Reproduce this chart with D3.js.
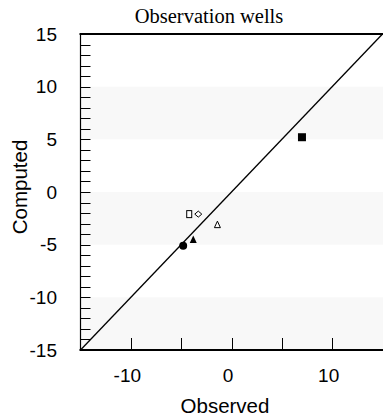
<!DOCTYPE html>
<meta charset="utf-8">
<title>Observation wells</title>
<style>
  body { margin: 0; background: #fff; }
  svg { display: block; }
  .tick text { font-family: "Liberation Sans", Arial, sans-serif; font-size: 19px; fill: #000; }
</style>
<svg width="383" height="419"></svg>
<script src="https://d3js.org/d3.v7.min.js"></script>
<script>

  var observed = [7.0, -4.2, -3.3, -1.4, -3.8, -4.8],
      computed = [5.2, -2.1, -2.1, -3.1, -4.5, -5.1],
      shapes = ["squareFilled", "squareOpen", "diamondOpen", "triangleOpen", "triangleFilled", "circleFilled"];

  var xTicks = [-10, -5, 0, 5, 10],
      xLabels = [-10, 0, 10],
      yLabels = [15, 10, 5, 0, -5, -10, -15],
      bands = [[5, 10], [-5, 0], [-15, -10]];

  var svg = d3.select("svg"),
      plotL = 80.5, plotT = 34, plotR = 382.5, plotB = 350;

  var x = d3.scaleLinear().domain([-15, 15]).range([plotL, plotR]);
  var y = d3.scaleLinear().domain([-15, 15]).range([plotB, plotT]);

  // shaded bands
  svg.selectAll("rect.band")
      .data(bands)
      .enter().append("rect")
      .attr("class", "band")
      .attr("x", plotL)
      .attr("width", plotR - plotL + 1)
      .attr("y", function(d) { return y(d[1]); })
      .attr("height", function(d) { return y(d[0]) - y(d[1]); })
      .attr("fill", "#f8f8f8");

  // minor ticks on y, every unit
  svg.selectAll("line.ytick")
      .data(d3.range(-14, 15))
      .enter().append("line")
      .attr("x1", plotL).attr("x2", plotL + 10)
      .attr("y1", function(d) { return Math.round(y(d)) + 0.5; })
      .attr("y2", function(d) { return Math.round(y(d)) + 0.5; })
      .attr("stroke", "#000");

  svg.selectAll("line.xtick")
      .data(xTicks)
      .enter().append("line")
      .attr("x1", function(d) { return Math.round(x(d)) + 0.5; })
      .attr("x2", function(d) { return Math.round(x(d)) + 0.5; })
      .attr("y1", plotB).attr("y2", plotB - 12)
      .attr("stroke", "#000");

  // 1:1 line
  svg.append("line")
      .attr("x1", x(-15)).attr("y1", y(-15))
      .attr("x2", x(15)).attr("y2", y(15))
      .attr("stroke", "#000")
      .attr("stroke-width", 1.3);

  // frame
  svg.append("line").attr("x1", plotL).attr("x2", plotL).attr("y1", plotT).attr("y2", plotB)
      .attr("stroke", "#000").attr("stroke-width", 1.2);
  svg.append("line").attr("x1", plotL - 1).attr("x2", 383).attr("y1", plotT).attr("y2", plotT)
      .attr("stroke", "#000").attr("stroke-width", 2);
  svg.append("line").attr("x1", plotL - 1).attr("x2", 383).attr("y1", plotB).attr("y2", plotB)
      .attr("stroke", "#000").attr("stroke-width", 2);

  // tick labels (plain hyphen minus, as in the original)
  svg.append("g")
      .attr("transform", "translate(57,0)")
      .call(d3.axisLeft(y).tickValues(yLabels).tickFormat(String).tickSize(0).tickPadding(0))
      .call(function(g) { g.select(".domain").remove(); });

  svg.append("g")
      .attr("transform", "translate(-4,368)")
      .call(d3.axisBottom(x).tickValues(xLabels).tickFormat(String).tickSize(0).tickPadding(0))
      .call(function(g) { g.select(".domain").remove(); });

  // titles
  svg.append("text")
      .attr("x", 209).attr("y", 23)
      .attr("text-anchor", "middle")
      .style("font-family", "'Liberation Serif', 'Times New Roman', serif")
      .style("font-size", "20.5px")
      .text("Observation wells");

  svg.append("text")
      .attr("x", 225).attr("y", 413)
      .attr("text-anchor", "middle")
      .style("font-family", "'Liberation Sans', Arial, sans-serif")
      .style("font-size", "20.5px")
      .text("Observed");

  svg.append("text")
      .attr("transform", "translate(27,187) rotate(-90)")
      .attr("text-anchor", "middle")
      .style("font-family", "'Liberation Sans', Arial, sans-serif")
      .style("font-size", "20.5px")
      .text("Computed");

  // markers
  function marker(g, shape) {
    if (shape === "squareFilled") {
      g.append("rect").attr("x", -4).attr("y", -4).attr("width", 8).attr("height", 8).attr("fill", "#000");
    } else if (shape === "squareOpen") {
      g.append("rect").attr("x", -2.5).attr("y", -3.5).attr("width", 5).attr("height", 7)
          .attr("fill", "#fff").attr("stroke", "#000");
    } else if (shape === "diamondOpen") {
      g.append("path").attr("d", "M-3.5,0L0,-3L3.5,0L0,3Z").attr("fill", "#fff").attr("stroke", "#000");
    } else if (shape === "triangleOpen") {
      g.append("path").attr("d", "M0,-3.5L3,3L-3,3Z").attr("fill", "#fff").attr("stroke", "#000");
    } else if (shape === "triangleFilled") {
      g.append("path").attr("d", "M0,-4L3.5,3.5L-3.5,3.5Z").attr("fill", "#000");
    } else {
      g.append("circle").attr("r", 4).attr("fill", "#000");
    }
  }

  svg.selectAll("g.pt")
      .data(observed)
      .enter().append("g")
      .attr("class", "pt")
      .attr("transform", function(d, i) { return "translate(" + x(d) + "," + y(computed[i]) + ")"; })
      .each(function(d, i) { marker(d3.select(this), shapes[i]); });

</script>
